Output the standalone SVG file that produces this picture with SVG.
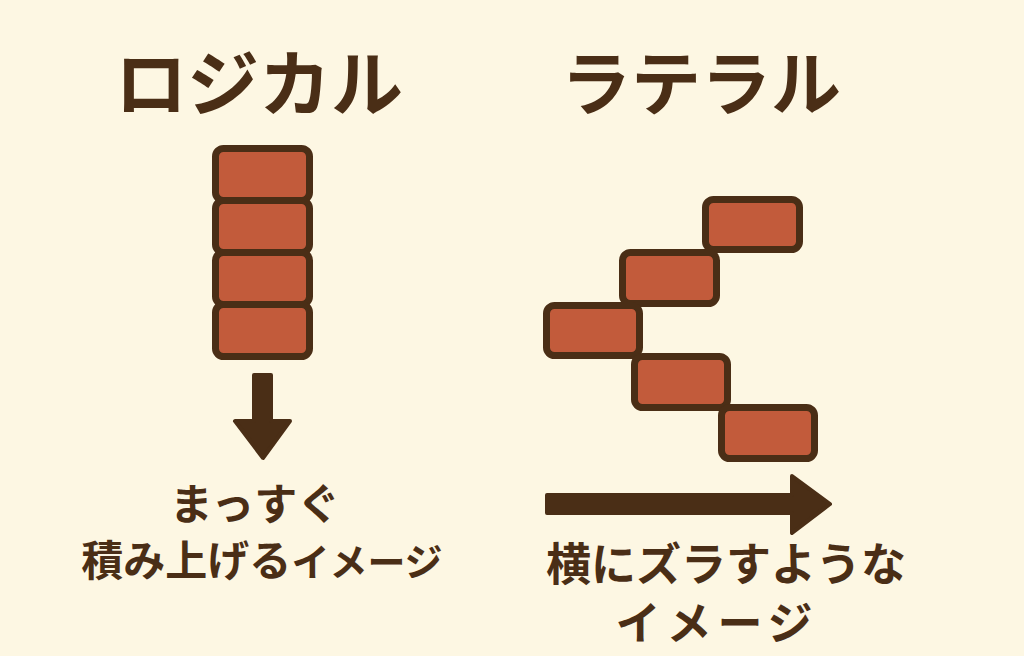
<svg xmlns="http://www.w3.org/2000/svg" width="1024" height="656" viewBox="0 0 1024 656">
<style>
.brick{fill:#c25b3b;stroke:#4a2e16;stroke-width:7;stroke-linejoin:round}
.t{font-family:"Noto Sans CJK JP","Noto Sans CJK SC",sans-serif;font-weight:700;fill:#4a2e16;text-anchor:middle}
.arrow{fill:#4a2e16;stroke:#4a2e16;stroke-linejoin:round;stroke-width:4}
</style>
<rect width="1024" height="656" fill="#fdf7e3"/>
<g id="title-logical"><text class="t" x="259" y="110" font-size="72">ロジカル</text></g>
<g id="title-lateral"><text class="t" x="701" y="110" font-size="70">ラテラル</text></g>
<g id="stack-logical">
<rect class="brick" x="215.5" y="148.5" width="94" height="52" rx="8"/>
<rect class="brick" x="215.5" y="200.5" width="94" height="52" rx="8"/>
<rect class="brick" x="215.5" y="252.5" width="94" height="52" rx="8"/>
<rect class="brick" x="215.5" y="304.5" width="94" height="52" rx="8"/>
</g>
<g id="stack-lateral">
<rect class="brick" x="705.5" y="199.5" width="94" height="50" rx="8"/>
<rect class="brick" x="622.5" y="252.5" width="94" height="51" rx="8"/>
<rect class="brick" x="546.5" y="305.5" width="93" height="50" rx="8"/>
<rect class="brick" x="634.5" y="356.5" width="93" height="51" rx="8"/>
<rect class="brick" x="721.5" y="407.5" width="93" height="51" rx="8"/>
</g>
<g id="connectors">
<path class="arrow" d="M254,375 H271 V421 H290 L263,458 L235,421 H254 Z"/>
<path class="arrow" d="M547,495 H792 V476 L830,504 L792,533 V513 H547 Z"/>
</g>
<g id="label-logical">
<text class="t" x="255" y="520" font-size="43">まっすぐ</text>
<text class="t" x="262" y="576" font-size="42">積み上げる<tspan font-size="38">イメージ</tspan></text>
</g>
<g id="label-lateral">
<text class="t" x="726" y="581" font-size="45">横にズラすような</text>
<text class="t" x="717" y="640" font-size="45" letter-spacing="6">イメージ</text>
</g>
</svg>
